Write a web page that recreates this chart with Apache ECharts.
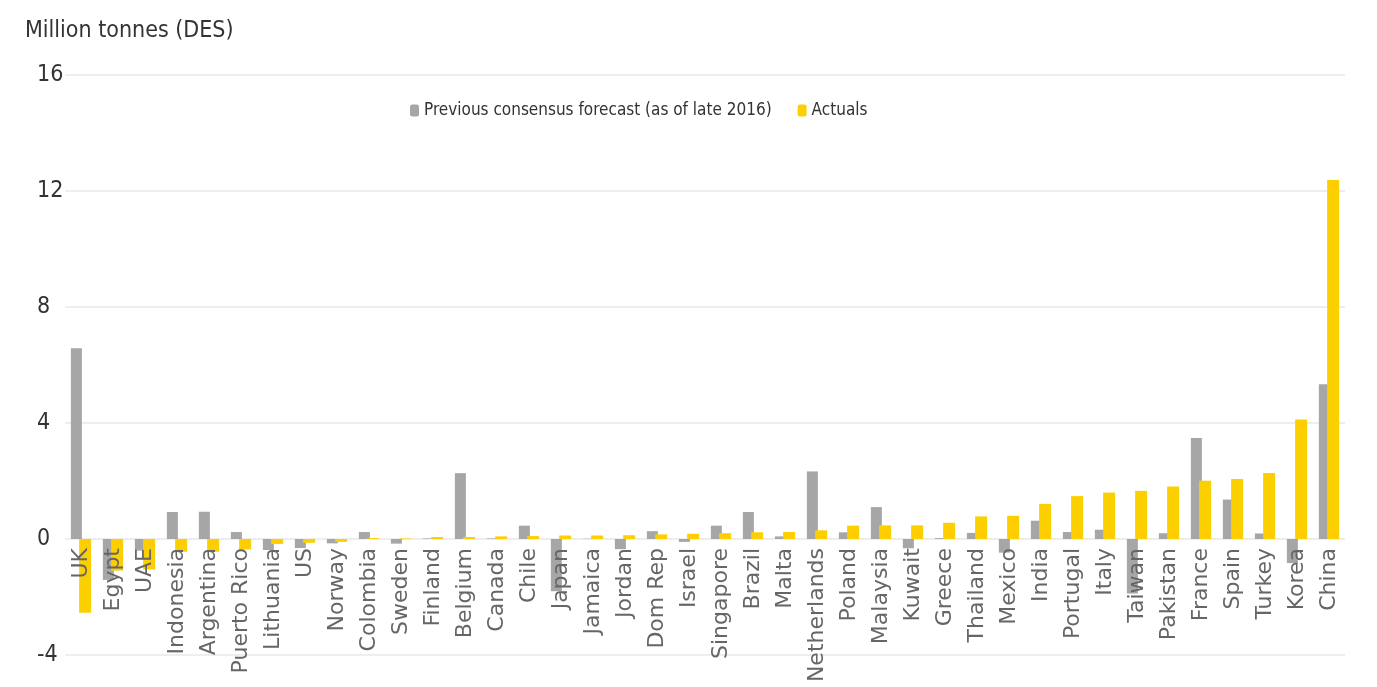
<!DOCTYPE html>
<html><head><meta charset="utf-8">
<script src="https://cdn.jsdelivr.net/npm/echarts@6/dist/echarts.min.js"></script>
<style>html,body{margin:0;padding:0;background:#fff}#c{width:1377px;height:687px}</style>
</head><body><div id="c"></div>
<script>
const categories = ["UK","Egypt","UAE","Indonesia","Argentina","Puerto Rico","Lithuania","US","Norway","Colombia","Sweden","Finland","Belgium","Canada","Chile","Japan","Jamaica","Jordan","Dom Rep","Israel","Singapore","Brazil","Malta","Netherlands","Poland","Malaysia","Kuwait","Greece","Thailand","Mexico","India","Portugal","Italy","Taiwan","Pakistan","France","Spain","Turkey","Korea","China"];
const forecast = [6.58,-1.41,-0.40,0.93,0.94,0.24,-0.38,-0.31,-0.15,0.24,-0.16,0.02,2.27,0.02,0.46,-1.80,0.01,-0.35,0.27,-0.10,0.46,0.93,0.09,2.33,0.23,1.10,-0.32,0.03,0.21,-0.47,0.63,0.24,0.32,-1.88,0.20,3.48,1.36,0.19,-0.83,5.34];
const actuals = [-2.54,-1.09,-1.05,-0.44,-0.44,-0.36,-0.17,-0.13,-0.10,0.03,0.02,0.07,0.07,0.09,0.10,0.12,0.12,0.13,0.16,0.18,0.20,0.23,0.24,0.30,0.46,0.47,0.47,0.56,0.78,0.80,1.21,1.48,1.60,1.66,1.81,2.01,2.07,2.28,4.12,12.38];
const yTicks = {min:-4, max:16, interval:4};
const font = '"Liberation Sans Narrow","DejaVu Sans Condensed","Open Sans",sans-serif';
const gridTop = 75, gridBottom = 32, H = 687;
// place the category axis at the value 0 line
const zeroOffset = -((H - gridBottom) - gridTop) * (0 - yTicks.min) / (yTicks.max - yTicks.min);
const chart = echarts.init(document.getElementById('c'));
chart.setOption({
  animation:false,
  title:{text:'Million tonnes (DES)',left:20,top:15,textStyle:{fontFamily:font,fontSize:23,fontWeight:'normal',color:'#333'}},
  legend:{top:97,left:405,itemWidth:9,itemHeight:12,itemGap:26,
    textStyle:{fontFamily:font,fontSize:17,color:'#333'},
    data:['Previous consensus forecast (as of late 2016)','Actuals']},
  grid:{left:65,right:32,top:gridTop,bottom:gridBottom,outerBoundsMode:'none'},
  xAxis:{type:'category',data:categories,offset:zeroOffset,z:10,
    axisLine:{show:false,onZero:false},axisTick:{show:false},
    axisLabel:{rotate:90,interval:0,margin:9,fontFamily:'"DejaVu Sans",sans-serif',fontSize:22,color:'#666'}},
  yAxis:{type:'value',min:yTicks.min,max:yTicks.max,interval:yTicks.interval,
    axisLine:{show:false},axisTick:{show:false},
    splitLine:{lineStyle:{color:'#e8e8e8',width:1.5}},
    axisLabel:{fontFamily:font,fontSize:23,color:'#333',align:'left',margin:28}},
  series:[
    {name:'Previous consensus forecast (as of late 2016)',type:'bar',data:forecast,barWidth:11,barGap:'-25%',itemStyle:{color:'#a6a6a6'},z:2},
    {name:'Actuals',type:'bar',data:actuals,barWidth:12,itemStyle:{color:'#fccf00'},z:3}
  ]
});
</script></body></html>
